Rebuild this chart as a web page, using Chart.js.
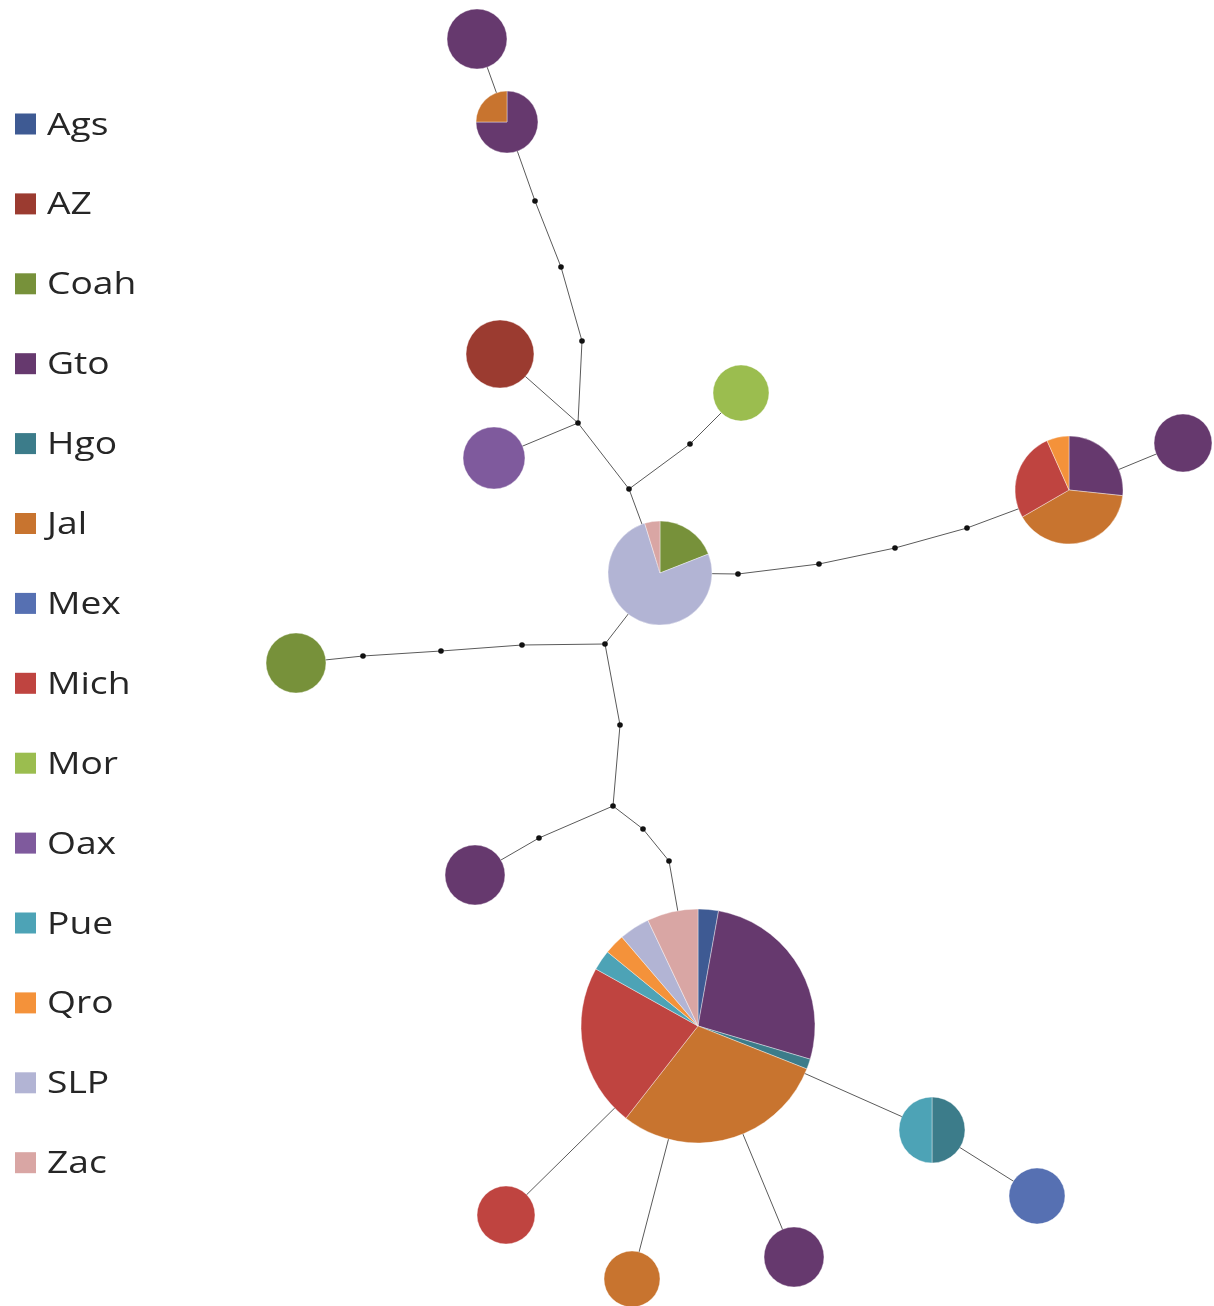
<!DOCTYPE html>
<html>
<head>
<meta charset="utf-8">
<title>Haplotype network</title>
<script src="https://cdn.jsdelivr.net/npm/chart.js@4/dist/chart.umd.min.js"></script>
<style>
  html, body { margin: 0; padding: 0; background: #ffffff; }
  #wrap { width: 1214px; height: 1306px; }
  canvas { display: block; }
</style>
</head>
<body>
<div id="wrap"><canvas id="net" width="1214" height="1306"></canvas></div>
<script>
// Sampling regions (legend order = slice order, clockwise from 12 o'clock)
const regions = ['Ags', 'AZ', 'Coah', 'Gto', 'Hgo', 'Jal', 'Mex', 'Mich', 'Mor', 'Oax', 'Pue', 'Qro', 'SLP', 'Zac'];
const regionColors = ['#3E5A93', '#9B3B30', '#77913A', '#66396E', '#3C7C8A', '#C8742F', '#5670B2',
                      '#BF4440', '#9BBD4F', '#7F5A9D', '#4DA3B6', '#F4923A', '#B2B4D4', '#D9A6A4'];

// Haplotypes: network layout position, glyph radius (bubble r) and individuals per region
const hapX = [47.7, 50.7, 50.0, 49.4, 74.1, 66.0, 106.9, 118.3, 29.6, 47.5, 69.8, 93.2, 103.7, 50.6, 63.2, 79.4];
const hapY = [3.9, 12.2, 35.4, 45.8, 39.3, 57.3, 49.0, 44.3, 66.3, 87.5, 102.6, 113.0, 119.6, 121.5, 127.9, 125.7];
const hapR = [30, 31, 34, 31, 28, 52, 54, 29, 30, 30, 117, 33, 28, 29, 28, 30];
const hapCounts = [
  { Gto: 1 },
  { Gto: 3, Jal: 1 },
  { AZ: 1 },
  { Oax: 1 },
  { Mor: 1 },
  { Coah: 4, SLP: 16, Zac: 1 },
  { Gto: 4, Jal: 6, Mich: 4, Qro: 1 },
  { Gto: 1 },
  { Coah: 1 },
  { Gto: 1 },
  { Ags: 2, Gto: 19, Hgo: 1, Jal: 21, Mich: 16, Pue: 2, Qro: 2, SLP: 3, Zac: 5 },
  { Hgo: 1, Pue: 1 },
  { Mex: 1 },
  { Mich: 1 },
  { Jal: 1 },
  { Gto: 1 }
];

// Median vectors and mutational steps
const stepX = [53.5, 56.1, 58.2, 57.8, 62.9, 69.0, 73.8, 81.9, 89.5, 96.7, 60.5, 52.2, 44.1, 36.3, 62.0, 61.3, 53.9, 64.3, 66.9];
const stepY = [20.1, 26.7, 34.1, 42.3, 48.9, 44.4, 57.4, 56.4, 54.8, 52.8, 64.4, 64.5, 65.1, 65.6, 72.5, 80.6, 83.8, 82.9, 86.1];

// Network links as chains of vertex ids (h = haplotype, s = step / median vector)
const links = [
  ['h0', 'h1'],
  ['h1', 's0', 's1', 's2', 's3'],
  ['s3', 'h2'],
  ['s3', 'h3'],
  ['s3', 's4'],
  ['s4', 's5', 'h4'],
  ['s4', 'h5'],
  ['h5', 's6', 's7', 's8', 's9', 'h6'],
  ['h6', 'h7'],
  ['h5', 's10'],
  ['s10', 's11', 's12', 's13', 'h8'],
  ['s10', 's14', 's15'],
  ['s15', 's16', 'h9'],
  ['s15', 's17', 's18', 'h10'],
  ['h10', 'h13'],
  ['h10', 'h14'],
  ['h10', 'h15'],
  ['h10', 'h11'],
  ['h11', 'h12']
];

function vertex(id) {
  const i = parseInt(id.slice(1), 10);
  return id[0] === 'h' ? { x: hapX[i], y: hapY[i] } : { x: stepX[i], y: stepY[i] };
}

const linkDatasets = links.map(chain => ({
  type: 'line',
  data: chain.map(vertex),
  showLine: true,
  borderColor: '#5a5a5a',
  borderWidth: 1,
  pointRadius: 0,
  pointHoverRadius: 0,
  fill: false,
  tension: 0,
  clip: false,
  order: 3
}));

const stepDataset = {
  type: 'scatter',
  data: stepX.map((x, i) => ({ x, y: stepY[i] })),
  pointRadius: 2.8,
  pointBackgroundColor: '#111111',
  pointBorderWidth: 0,
  clip: false,
  order: 2
};

const hapDataset = {
  type: 'bubble',
  data: hapX.map((x, i) => ({ x, y: hapY[i], r: hapR[i] })),
  backgroundColor: 'rgba(0,0,0,0)',
  borderWidth: 0,
  clip: false,
  order: 1
};

// Draws each haplotype bubble as a pie of its regional composition
const pieGlyphs = {
  id: 'pieGlyphs',
  afterDatasetsDraw(chart) {
    const idx = chart.data.datasets.indexOf(hapDataset);
    const meta = chart.getDatasetMeta(idx);
    const ctx = chart.ctx;
    meta.data.forEach((el, i) => {
      const counts = hapCounts[i];
      const total = regions.reduce((s, name) => s + (counts[name] || 0), 0);
      const r = el.options.radius;
      let a = -Math.PI / 2;
      ctx.save();
      regions.forEach((name, k) => {
        const n = counts[name] || 0;
        if (!n) return;
        const sweep = (n / total) * Math.PI * 2;
        ctx.beginPath();
        if (sweep >= Math.PI * 2 - 1e-6) {
          ctx.arc(el.x, el.y, r, 0, Math.PI * 2);
        } else {
          ctx.moveTo(el.x, el.y);
          ctx.arc(el.x, el.y, r, a, a + sweep);
          ctx.closePath();
        }
        ctx.fillStyle = regionColors[k];
        ctx.fill();
        ctx.lineWidth = 0.7;
        ctx.strokeStyle = 'rgba(255,255,255,0.55)';
        ctx.stroke();
        a += sweep;
      });
      ctx.restore();
    });
  }
};

// Vertical legend column on the left edge
const regionLegend = {
  id: 'regionLegend',
  afterDraw(chart, args, opts) {
    const ctx = chart.ctx;
    ctx.save();
    ctx.font = opts.font;
    ctx.textBaseline = 'alphabetic';
    ctx.textAlign = 'left';
    regions.forEach((name, i) => {
      const cy = opts.top + i * opts.spacing;
      ctx.fillStyle = regionColors[i];
      ctx.fillRect(opts.boxX, cy - opts.box / 2, opts.box, opts.box);
      ctx.save();
      ctx.translate(opts.textX, cy + opts.baseline);
      ctx.scale(opts.stretch, 1);
      ctx.fillStyle = opts.color;
      ctx.fillText(name, 0, 0);
      ctx.restore();
    });
    ctx.restore();
  }
};

new Chart(document.getElementById('net'), {
  type: 'scatter',
  data: { datasets: [...linkDatasets, stepDataset, hapDataset] },
  plugins: [pieGlyphs, regionLegend],
  options: {
    responsive: false,
    animation: false,
    devicePixelRatio: 1,
    layout: { padding: 0, autoPadding: false },
    scales: {
      x: { type: 'linear', min: 0, max: 121.4, display: false },
      y: { type: 'linear', min: 0, max: 130.6, reverse: true, display: false }
    },
    plugins: {
      legend: { display: false },
      tooltip: { enabled: false },
      regionLegend: {
        top: 124, spacing: 79.9, box: 21, boxX: 15, textX: 47, baseline: 10.5,
        font: '31px "Open Sans", "DejaVu Sans", sans-serif', stretch: 1.2, color: '#262626'
      }
    }
  }
});
</script>
</body>
</html>
